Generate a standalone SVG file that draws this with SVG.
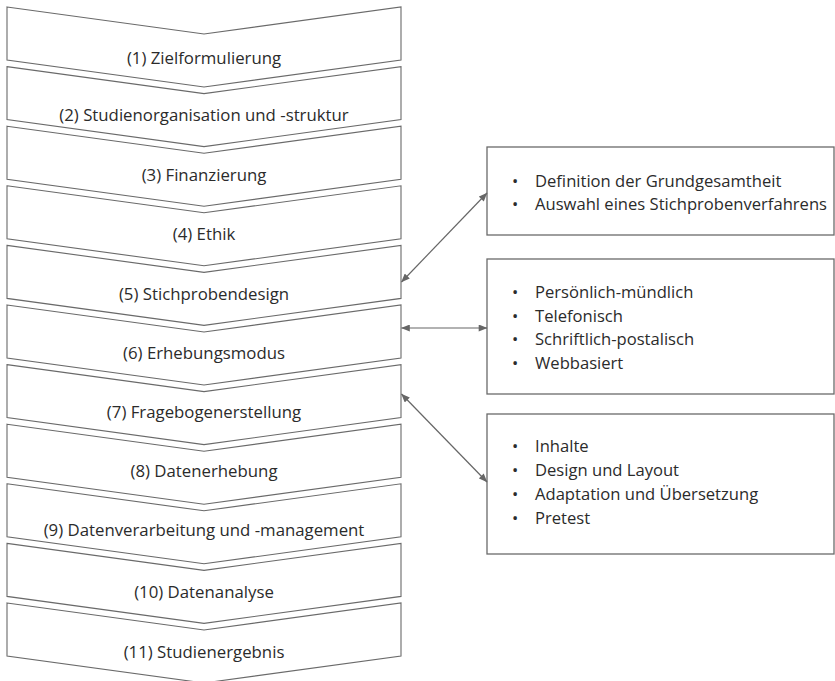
<svg xmlns="http://www.w3.org/2000/svg" width="835" height="681" viewBox="0 0 835 681">
<defs>
<style>
.chev{fill:#fff;stroke:#6a6a6a;stroke-width:1.1}
.box{fill:#fff;stroke:#6a6a6a;stroke-width:1.3}
.lbl{font-family:"Open Sans","Liberation Sans",sans-serif;font-size:16.8px;fill:#2b2b2b;text-anchor:middle}
.itm{font-family:"Open Sans","Liberation Sans",sans-serif;font-size:16.6px;fill:#2b2b2b}
.con{stroke:#666;stroke-width:1.2;fill:none;marker-start:url(#ah);marker-end:url(#ah)}
</style>
<marker id="ah" viewBox="0 0 10 8" refX="9.5" refY="4" markerWidth="10" markerHeight="7" markerUnits="userSpaceOnUse" orient="auto-start-reverse">
<path d="M0,0 L10,4 L0,8 Z" fill="#666"/>
</marker>
</defs>
<rect width="835" height="681" fill="#fff"/>
<g id="step1"><path class="chev" d="M7,7 L204,34 L401,7 L401,60 L204,87 L7,60 Z"/><text class="lbl" x="204" y="63.5">(1) Zielformulierung</text></g>
<g id="step2"><path class="chev" d="M7,66.6 L204,93.6 L401,66.6 L401,119.6 L204,146.6 L7,119.6 Z"/><text class="lbl" x="204" y="121">(2) Studienorganisation und -struktur</text></g>
<g id="step3"><path class="chev" d="M7,126.2 L204,153.2 L401,126.2 L401,179.2 L204,206.2 L7,179.2 Z"/><text class="lbl" x="204" y="180.5">(3) Finanzierung</text></g>
<g id="step4"><path class="chev" d="M7,185.8 L204,212.8 L401,185.8 L401,238.8 L204,265.8 L7,238.8 Z"/><text class="lbl" x="204" y="240">(4) Ethik</text></g>
<g id="step5"><path class="chev" d="M7,245.4 L204,272.4 L401,245.4 L401,298.4 L204,325.4 L7,298.4 Z"/><text class="lbl" x="204" y="299.5">(5) Stichprobendesign</text></g>
<g id="step6"><path class="chev" d="M7,305 L204,332 L401,305 L401,358 L204,385 L7,358 Z"/><text class="lbl" x="204" y="358.5">(6) Erhebungsmodus</text></g>
<g id="step7"><path class="chev" d="M7,364.6 L204,391.6 L401,364.6 L401,417.6 L204,444.6 L7,417.6 Z"/><text class="lbl" x="204" y="418">(7) Fragebogenerstellung</text></g>
<g id="step8"><path class="chev" d="M7,424.2 L204,451.2 L401,424.2 L401,477.2 L204,504.2 L7,477.2 Z"/><text class="lbl" x="204" y="477">(8) Datenerhebung</text></g>
<g id="step9"><path class="chev" d="M7,483.8 L204,510.8 L401,483.8 L401,536.8 L204,563.8 L7,536.8 Z"/><text class="lbl" x="204" y="535.5">(9) Datenverarbeitung und -management</text></g>
<g id="step10"><path class="chev" d="M7,543.4 L204,570.4 L401,543.4 L401,596.4 L204,623.4 L7,596.4 Z"/><text class="lbl" x="204" y="597.5">(10) Datenanalyse</text></g>
<g id="step11"><path class="chev" d="M7,603 L204,630 L401,603 L401,656 L204,683 L7,656 Z"/><text class="lbl" x="204" y="657.5">(11) Studienergebnis</text></g>
<g id="box1"><rect class="box" x="487" y="147" width="347" height="88"/>
<text class="itm" x="512" y="187">•</text><text class="itm" x="535" y="187">Definition der Grundgesamtheit</text>
<text class="itm" x="512" y="210">•</text><text class="itm" x="535" y="210">Auswahl eines Stichprobenverfahrens</text></g>
<g id="box2"><rect class="box" x="487" y="259" width="347" height="135"/>
<text class="itm" x="512" y="298">•</text><text class="itm" x="535" y="298">Persönlich-mündlich</text>
<text class="itm" x="512" y="321.5">•</text><text class="itm" x="535" y="321.5">Telefonisch</text>
<text class="itm" x="512" y="345">•</text><text class="itm" x="535" y="345">Schriftlich-postalisch</text>
<text class="itm" x="512" y="368.5">•</text><text class="itm" x="535" y="368.5">Webbasiert</text></g>
<g id="box3"><rect class="box" x="487" y="414" width="347" height="140"/>
<text class="itm" x="512" y="452">•</text><text class="itm" x="535" y="452">Inhalte</text>
<text class="itm" x="512" y="476">•</text><text class="itm" x="535" y="476">Design und Layout</text>
<text class="itm" x="512" y="500">•</text><text class="itm" x="535" y="500">Adaptation und Übersetzung</text>
<text class="itm" x="512" y="523.5">•</text><text class="itm" x="535" y="523.5">Pretest</text></g>
<g id="connectors">
<line class="con" x1="401.5" y1="282" x2="487" y2="193"/>
<line class="con" x1="401.5" y1="328" x2="487" y2="328"/>
<line class="con" x1="401.5" y1="394" x2="487" y2="482"/>
</g>
</svg>
